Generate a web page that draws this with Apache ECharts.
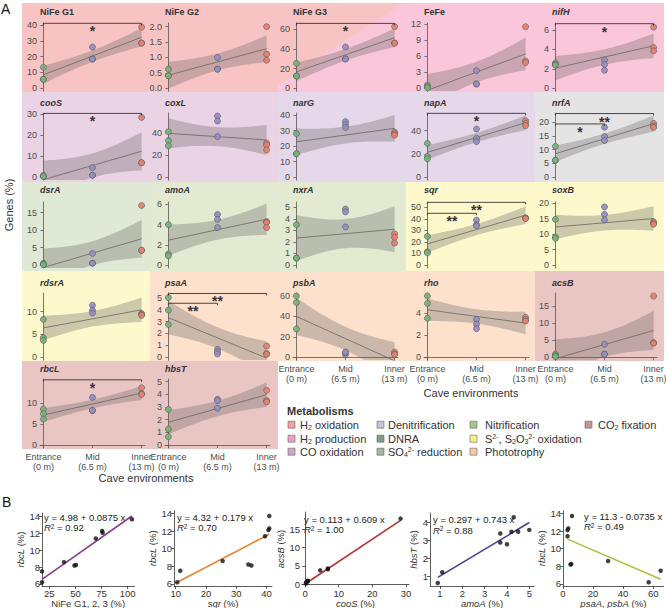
<!DOCTYPE html>
<html>
<head>
<meta charset="utf-8">
<script src="https://cdn.jsdelivr.net/npm/echarts@6/dist/echarts.min.js"></script>
<style>
  html, body { margin: 0; padding: 0; background: #fff; }
  #chart { width: 666px; height: 608px; }
</style>
</head>
<body>
<div id="chart"></div>
<script>
// ---------- data (A: genes % per site, 3 samples each: Entrance, Mid, Inner) ----------
const groupX = [0, 6.5, 13];
const groupNames = ['Entrance', 'Mid', 'Inner'];
const groupDepth = ['(0 m)', '(6.5 m)', '(13 m)'];

const niFeG1 = [[13.3, 5.7, 5.7], [26.1, 18.5, 18.5], [38.7, 28.6, 28.6]];
const niFeG2 = [[0.62, 0.41, 0.41], [1.0, 0.62, 0.62], [2.0, 1.11, 0.91]];
const niFeG3 = [[25.4, 12.5, 12.5], [42, 29.8, 29.8], [62.7, 46, 46]];
const feFe = [[0.6, 0.3, 0.1], [3.3, 0.8, 0.8], [11.5, 5.1, 4.8]];
const nifH = [[2.6, 2.45, 2.4], [2.9, 2.45, 1.85], [6.3, 4.2, 3.85]];
const cooS = [[0.8, 0.3, 0.3], [4.5, 0.8, 0.8], [28.4, 6.8, 6.8]];
const coxL = [[41.5, 33.3, 28.5], [55.8, 51.2, 37], [31, 29.4, 24.8]];
const narG = [[28, 15, 15], [35.7, 33.8, 32], [29, 28, 27]];
const napA = [[29, 17.7, 15.7], [41.4, 33.4, 30.6], [48.6, 46.3, 44.3]];
const nrfA = [[11.2, 6.1, 6.1], [18.2, 14.8, 13.3], [19.6, 18.7, 18.1]];
const dsrA = [[0.5, 0.2, 0.1], [3.3, 0.5, 0.5], [17, 4.2, 4.2]];
const amoA = [[4.0, 1.1, 0.9], [5.0, 4.5, 3.7], [4.3, 4.2, 3.7]];
const nxrA = [[3.5, 0.6, 0.6], [4.85, 4.6, 3.3], [2.7, 2.4, 1.9]];
const sqr = [[24.8, 11.5, 10.5], [38.9, 35, 34], [40.9, 40.5, 40.2]];
const soxB = [[14.8, 9.1, 8.6], [18.8, 16.4, 14.6], [14, 13.6, 13.2]];
const rdsrA = [[8.3, 4.3, 3.7], [11.4, 10.3, 9.7], [9.6, 9.4, 9.2]];
const psaA = [[5.0, 3.95, 2.75], [0.67, 0.47, 0.28], [0.94, 0.33, 0.25]];
const psbA = [[60, 53.5, 27.7], [2.5, 4.5, 5.2], [5.1, 3.2, 2.7]];
const rho = [[5.58, 4.9, 3.55], [3.45, 3.0, 2.6], [3.64, 3.45, 3.3]];
const acsB = [[0.9, 0.5, 0.2], [3.8, 0.9, 0.9], [17.9, 4.3, 4.1]];
const rbcL = [[8.6, 7.5, 6.2], [11.4, 8.2, 8.3], [13.7, 12.3, 12.1]];
const hbsT = [[2.8, 1.25, 0.65], [3.6, 3.5, 2.9], [4.3, 3.5, 3.4]];

// ---------- data (B: pairwise correlations) ----------
const b1x = [18, 18, 39, 49, 50.5, 69.5, 75.5, 76, 104];
const b1y = [7.5, 6.2, 8.6, 8.2, 8.25, 11.4, 12.3, 12.1, 13.7];
const b2x = [10.5, 11.5, 25.5, 34, 35, 39.5, 40.6, 40.9, 40.9];
const b2y = [6.2, 7.5, 8.6, 8.2, 8.1, 11.4, 12.1, 12.3, 13.7];
const b3x = [0.8, 0.3, 0.3, 4.5, 0.8, 0.8, 28.4, 6.8, 6.8];
const b3y = [0.9, 0.5, 0.2, 3.8, 0.9, 0.9, 17.9, 4.3, 4.1];
const b4x = [4.0, 1.1, 0.9, 5.0, 4.5, 3.7, 4.3, 4.2, 3.7];
const b4y = [2.8, 1.25, 0.65, 3.6, 3.5, 2.9, 4.3, 3.5, 3.4];
const b5x = [65, 57, 30, 3, 5, 5.5, 6, 3.5, 3];
const b5y = [7.5, 6.2, 8.6, 11.4, 8.2, 8.25, 13.7, 12.3, 12.1];
const bIntercept = [4.98, 4.32, 0.113, 0.297, 11.3];
const bSlope = [0.0875, 0.179, 0.609, 0.743, -0.0735];
const bR2 = ['0.92', '0.70', '1.00', '0.88', '0.49'];
const bXName = ['NiFe G1, 2, 3 (%)', '{i|sqr} (%)', '{i|cooS} (%)', '{i|amoA} (%)', '{i|psaA}, {i|psbA} (%)'];
const bYName = ['{i|rbcL} (%)', '{i|rbcL} (%)', '{i|acsB} (%)', '{i|hbsT} (%)', '{i|rbcL} (%)'];

// ---------- metabolisms ----------
const metKeys = ['h2ox', 'h2prod', 'coox', 'denit', 'dnra', 'so4', 'nitr', 'sox', 'photo', 'co2'];
const metLabels = ['H{sub|2} oxidation', 'H{sub|2} production', 'CO oxidation', 'Denitrification', 'DNRA',
  'SO{sub|4}{sup|2-} reduction', 'Nitrification', 'S{sup|2-}, S{sub|2}O{sub|3}{sup|2-} oxidation', 'Phototrophy', 'CO{sub|2} fixation'];
const metBg = {
  h2ox: '#f7c4c3', h2prod: '#f9c6da', coox: '#ead3e5', denit: '#e4d8ea', dnra: '#e4e4e4',
  so4: '#dfe9d6', nitr: '#e2ebd2', sox: '#fdf9cd', photo: '#fde1cd', co2: '#e9c5c4'
};
const metKey = {
  h2ox: '#f0a09f', h2prod: '#ef9fc6', coox: '#c8a7c7', denit: '#cbbfda', dnra: '#849c86',
  so4: '#a3b89f', nitr: '#a6c68f', sox: '#f3f18e', photo: '#f7c8a7', co2: '#c79494'
};

// ---------- panels ----------
const panels = [
  { name: 'NiFe G1', it: false, data: niFeG1, met: 'h2ox', ticks: [0, 10, 20, 30, 40], top: 41.3 },
  { name: 'NiFe G2', it: false, data: niFeG2, met: 'h2ox', ticks: [0, 0.5, 1, 1.5, 2], top: 2.12, dec: 1 },
  { name: 'NiFe G3', it: false, data: niFeG3, met: 'split', ticks: [0, 20, 40, 60], top: 66.4 },
  { name: 'FeFe', it: false, data: feFe, met: 'h2prod', ticks: [0, 3, 6, 9, 12], top: 12.2 },
  { name: 'nifH', it: true, data: nifH, met: 'h2prod', ticks: [0, 2, 4, 6], top: 6.72 },
  { name: 'cooS', it: true, data: cooS, met: 'coox', ticks: [0, 10, 20, 30], top: 30.5 },
  { name: 'coxL', it: true, data: coxL, met: 'coox', ticks: [0, 20, 40], top: 58.6 },
  { name: 'narG', it: true, data: narG, met: 'denit', ticks: [0, 10, 20, 30, 40], top: 41.3 },
  { name: 'napA', it: true, data: napA, met: 'denit', ticks: [0, 20, 40], top: 55.3 },
  { name: 'nrfA', it: true, data: nrfA, met: 'dnra', ticks: [0, 5, 10, 15, 20], top: 23.4 },
  { name: 'dsrA', it: true, data: dsrA, met: 'so4', ticks: [0, 5, 10, 15], top: 18 },
  { name: 'amoA', it: true, data: amoA, met: 'nitr', ticks: [0, 2, 4, 6], top: 6.23 },
  { name: 'nxrA', it: true, data: nxrA, met: 'nitr', ticks: [0, 1, 2, 3, 4, 5], top: 5.46 },
  { name: 'sqr', it: true, data: sqr, met: 'sox', ticks: [0, 10, 20, 30, 40, 50], top: 54.6 },
  { name: 'soxB', it: true, data: soxB, met: 'sox', ticks: [0, 5, 10, 15, 20], top: 20.4 },
  { name: 'rdsrA', it: true, data: rdsrA, met: 'sox', ticks: [0, 5, 10], top: 14.1 },
  { name: 'psaA', it: true, data: psaA, met: 'photo', ticks: [0, 1, 2, 3, 4, 5], top: 5.39 },
  { name: 'psbA', it: true, data: psbA, met: 'photo', ticks: [0, 20, 40, 60], top: 62.9 },
  { name: 'rho', it: true, data: rho, met: 'photo', ticks: [0, 2, 4], top: 5.85 },
  { name: 'acsB', it: true, data: acsB, met: 'co2', ticks: [0, 5, 10, 15], top: 18.8 },
  { name: 'rbcL', it: true, data: rbcL, met: 'co2', ticks: [0, 5, 10], top: 15.8 },
  { name: 'hbsT', it: true, data: hbsT, met: 'co2', ticks: [0, 1, 2, 3, 4, 5], top: 5.2 }
];

// significance brackets: panel, from group, to group, label, height (data units)
const signif = [
  [0, 0, 2, '*', 41.1], [2, 0, 2, '*', 66], [4, 0, 2, '*', 6.65], [5, 0, 2, '*', 30.3],
  [8, 0, 2, '*', 55], [9, 0, 2, '**', 23.2], [9, 0, 1, '*', 19.4], [13, 0, 2, '**', 54.3],
  [13, 0, 1, '**', 44.8], [16, 0, 2, '**', 5.35], [16, 0, 1, '**', 4.53], [20, 0, 2, '*', 15.6]
];

// ---------- layout ----------
const FONT = '"Liberation Sans", Arial, sans-serif';
const colX = [40, 165, 293, 424, 552];
const rowTop = [23, 113, 202, 293, 379];
const rowZero = [88.3, 177, 265, 357.3, 445];
const rowTitleY = [12, 103, 190, 283, 369];
const bgRows = [[3, 92], [92, 182], [182, 271], [271, 361], [361, 449]];
const bgCols = [22, 150, 278, 406, 535, 664];
const panelW = 105;
const xPad = 0.45;
const bottomPanels = [17, 18, 19, 20, 21];
const groupColors = ['#78b27a', '#958ec3', '#e8806d'];
const bandColor = 'rgba(105,100,100,0.33)';
const axisColor = '#5a5555';
const labelColor = '#4d4d4d';

const tTable = { 1: 12.706, 2: 4.303, 3: 3.182, 4: 2.776, 5: 2.571, 6: 2.447, 7: 2.365, 8: 2.306, 9: 2.262 };

function linFit(pts) {
  const n = pts.length;
  const xbar = pts.reduce((s, p) => s + p[0], 0) / n;
  const ybar = pts.reduce((s, p) => s + p[1], 0) / n;
  let sxx = 0, sxy = 0;
  pts.forEach(p => { sxx += (p[0] - xbar) ** 2; sxy += (p[0] - xbar) * (p[1] - ybar); });
  const b = sxy / sxx, a = ybar - b * xbar;
  let sse = 0;
  pts.forEach(p => { sse += (p[1] - a - b * p[0]) ** 2; });
  return { a, b, n, xbar, sxx, s: Math.sqrt(sse / (n - 2)) };
}

const grids = [], xAxes = [], yAxes = [], series = [], graphics = [];

// backgrounds
panels.forEach((p, i) => {
  const r = i < 20 ? Math.floor(i / 5) : 4;
  const c = i < 20 ? i % 5 : i - 20;
  const x0 = bgCols[c], x1 = bgCols[c + 1], y0 = bgRows[r][0], y1 = bgRows[r][1];
  if (p.met === 'split') {
    graphics.push({ type: 'rect', z: -10, shape: { x: x0, y: y0, width: x1 - x0, height: y1 - y0 }, style: { fill: metBg.h2prod } });
    graphics.push({ type: 'polygon', z: -9, shape: { points: [[x0, y0], [x1 - 3, y0], [x0, 85]] }, style: { fill: metBg.h2ox } });
  } else {
    graphics.push({ type: 'rect', z: -10, shape: { x: x0, y: y0, width: x1 - x0, height: y1 - y0 }, style: { fill: metBg[p.met] } });
  }
});

panels.forEach((p, i) => {
  const r = i < 20 ? Math.floor(i / 5) : 4;
  const c = i < 20 ? i % 5 : i - 20;
  const bottom = rowZero[r] + 3;
  const ppu = (rowZero[r] - rowTop[r]) / p.top;
  const yMin = -3 / ppu;
  const showX = bottomPanels.includes(i);

  grids.push({ left: colX[c], top: rowTop[r], width: panelW, height: bottom - rowTop[r], containLabel: false, outerBoundsMode: 'none' });
  xAxes.push({
    gridIndex: i, type: 'value', min: -xPad, max: 13 + xPad, show: showX,
    axisLine: { show: true, lineStyle: { color: axisColor, width: 0.8 } },
    axisTick: { show: true, customValues: groupX, length: 3, lineStyle: { color: axisColor, width: 0.8 } },
    axisLabel: { show: false },
    splitLine: { show: false }
  });
  yAxes.push({
    gridIndex: i, type: 'value', min: yMin, max: p.top,
    axisLine: { show: true, lineStyle: { color: axisColor, width: 0.8 } },
    axisTick: { show: true, customValues: p.ticks, length: 3, lineStyle: { color: axisColor, width: 0.8 } },
    axisLabel: {
      customValues: p.ticks, margin: 3, fontSize: 9, color: labelColor, fontFamily: FONT,
      formatter: v => p.dec ? v.toFixed(p.dec) : String(v)
    },
    splitLine: { show: false }
  });

  // title
  graphics.push({
    type: 'text', x: colX[c], y: rowTitleY[r],
    style: { text: p.name, font: (p.it ? 'italic ' : '') + 'bold 9px ' + FONT, fill: '#333', verticalAlign: 'middle' }
  });

  // x labels under the bottom panels, centred on each site
  if (showX) {
    series.push({
      type: 'custom', xAxisIndex: i, yAxisIndex: i, silent: true, clip: false, z: 5,
      data: groupX.map(x => [x, yMin]),
      renderItem: (params, api) => {
        const g = params.dataIndex;
        const pt = api.coord([groupX[g], yMin]);
        return {
          type: 'text', x: pt[0], y: pt[1] + 4,
          style: { text: groupNames[g] + '\n' + groupDepth[g], align: 'center', verticalAlign: 'top', font: '9px ' + FONT, lineHeight: 10, fill: labelColor }
        };
      }
    });
  }

  const pts = [];
  p.data.forEach((vals, g) => vals.forEach(v => pts.push([groupX[g], v])));
  const f = linFit(pts);
  const t = tTable[f.n - 2];
  const upper = [], lower = [];
  for (let k = 0; k <= 40; k++) {
    const x = 13 * k / 40;
    const fit = f.a + f.b * x;
    const se = f.s * Math.sqrt(1 / f.n + (x - f.xbar) ** 2 / f.sxx);
    upper.push([x, fit + t * se]);
    lower.push([x, fit - t * se]);
  }
  series.push({
    type: 'custom', xAxisIndex: i, yAxisIndex: i, silent: true, clip: true, z: 1,
    data: [[0, 0]],
    renderItem: (params, api) => {
      const poly = upper.map(q => api.coord(q)).concat(lower.slice().reverse().map(q => api.coord(q)));
      return { type: 'polygon', shape: { points: echarts.graphic.clipPointsByRect(poly, params.coordSys) }, style: { fill: bandColor } };
    }
  });
  series.push({
    type: 'line', xAxisIndex: i, yAxisIndex: i, silent: true, symbol: 'none', z: 2, clip: true,
    data: [[0, f.a], [13, f.a + 13 * f.b]],
    lineStyle: { color: '#6b6666', width: 0.8 }
  });
  series.push({
    type: 'scatter', xAxisIndex: i, yAxisIndex: i, silent: true, z: 3, symbolSize: 6,
    data: pts.map((q, k) => ({ value: q, itemStyle: { color: groupColors[Math.floor(k / 3)] } })),
    itemStyle: { borderColor: '#555', borderWidth: 0.6, opacity: 0.95 }
  });

  const br = signif.filter(s => s[0] === i);
  if (br.length) {
    series.push({
      type: 'custom', xAxisIndex: i, yAxisIndex: i, silent: true, z: 4,
      data: br.map(s => [groupX[s[1]], s[4]]),
      renderItem: (params, api) => {
        const s = br[params.dataIndex];
        const p1 = api.coord([groupX[s[1]], s[4]]);
        const p2 = api.coord([groupX[s[2]], s[4]]);
        return {
          type: 'group', children: [
            { type: 'polyline', shape: { points: [[p1[0], p1[1] + 2], p1, p2, [p2[0], p2[1] + 2]] }, style: { stroke: '#3a3333', lineWidth: 0.9, fill: null } },
            { type: 'text', x: (p1[0] + p2[0]) / 2, y: p1[1] + 8, style: { text: s[3], align: 'center', verticalAlign: 'middle', font: 'bold 14px ' + FONT, fill: '#3a3333' } }
          ]
        };
      }
    });
  }
});

// ---------- panel B ----------
const bLayout = [
  { left: 42, top: 513, width: 92.5, xMin: 18, xMax: 106.5, yMin: 5.76, yMax: 14.44, xt: [25, 50, 75, 100], yt: [6, 8, 10, 12, 14], color: '#8b3d8c', eqX: 44, eqY: 517, nameGap: 9 },
  { left: 174, top: 510.7, width: 98, xMin: 9.44, xMax: 41.8, yMin: 5.77, yMax: 14.3, xt: [10, 20, 30, 40], yt: [6, 8, 10, 12, 14], color: '#e8842c', eqX: 177, eqY: 517, nameGap: 7 },
  { left: 302, top: 512, width: 107, xMin: -0.9, xMax: 30.9, yMin: -0.46, yMax: 19.7, xt: [0, 10, 20, 30], yt: [0, 5, 10, 15], color: '#b5302e', eqX: 304, eqY: 519, nameGap: 8 },
  { left: 430, top: 513, width: 104, xMin: 0.552, xMax: 5.21, yMin: 0.483, yMax: 4.54, xt: [1, 2, 3, 4, 5], yt: [1, 2, 3, 4], color: '#4a3f98', eqX: 433, eqY: 519.5, nameGap: 5 },
  { left: 563, top: 510.7, width: 100.7, xMin: 0, xMax: 67, yMin: 5.77, yMax: 14.3, xt: [0, 20, 40, 60], yt: [6, 8, 10, 12, 14], color: '#a8c33e', eqX: 584, eqY: 516, nameGap: 9 }
];
const bX = [b1x, b2x, b3x, b4x, b5x];
const bY = [b1y, b2y, b3y, b4y, b5y];

bLayout.forEach((L, j) => {
  const gi = panels.length + j;
  grids.push({ left: L.left, top: L.top, width: L.width, height: 586 - L.top, containLabel: false, outerBoundsMode: 'none' });
  const common = {
    axisLine: { show: true, lineStyle: { color: '#333', width: 0.8 } },
    splitLine: { show: false }
  };
  const nameStyle = {
    fontSize: 9.5, color: '#333', fontFamily: FONT,
    rich: { i: { fontSize: 9.5, fontStyle: 'italic', color: '#333', fontFamily: FONT } }
  };
  xAxes.push(Object.assign({
    gridIndex: gi, type: 'value', min: L.xMin, max: L.xMax,
    axisTick: { show: true, customValues: L.xt, length: 3, lineStyle: { color: '#333', width: 0.8 } },
    axisLabel: { customValues: L.xt, margin: 2, fontSize: 9.5, color: '#333', fontFamily: FONT },
    name: bXName[j], nameLocation: 'middle', nameGap: 11, nameTextStyle: nameStyle
  }, common));
  yAxes.push(Object.assign({
    gridIndex: gi, type: 'value', min: L.yMin, max: L.yMax,
    axisTick: { show: true, customValues: L.yt, length: 3, lineStyle: { color: '#333', width: 0.8 } },
    axisLabel: { customValues: L.yt, margin: 2, fontSize: 9.5, color: '#333', fontFamily: FONT },
    name: bYName[j], nameLocation: 'middle', nameGap: L.nameGap, nameTextStyle: nameStyle
  }, common));

  const xs = bX[j], ys = bY[j];
  const x0 = Math.min(...xs), x1 = Math.max(...xs);
  series.push({
    type: 'line', xAxisIndex: gi, yAxisIndex: gi, silent: true, symbol: 'none', z: 2,
    data: [[x0, bIntercept[j] + bSlope[j] * x0], [x1, bIntercept[j] + bSlope[j] * x1]],
    lineStyle: { color: L.color, width: 1.6 }
  });
  series.push({
    type: 'scatter', xAxisIndex: gi, yAxisIndex: gi, silent: true, z: 3, symbolSize: 4.5,
    data: xs.map((x, k) => [x, ys[k]]),
    itemStyle: { color: '#111' }
  });

  const b = bSlope[j];
  const eq = 'y = ' + bIntercept[j] + (b < 0 ? ' - ' : ' + ') + Math.abs(b) + ' x';
  graphics.push({ type: 'text', x: L.eqX, y: L.eqY, style: { text: eq, font: '9.5px ' + FONT, fill: '#222', verticalAlign: 'middle' } });
  graphics.push({
    type: 'text', x: L.eqX, y: L.eqY + 10.5,
    style: {
      text: '{i|R}{s|2} = ' + bR2[j], font: '9.5px ' + FONT, fill: '#222', verticalAlign: 'middle',
      rich: { i: { fontStyle: 'italic', fontSize: 9.5, fontFamily: FONT, fill: '#222' }, s: { fontSize: 6.5, verticalAlign: 'top', fontFamily: FONT, fill: '#222' } }
    }
  });
});

// ---------- labels, legend ----------
graphics.push({ type: 'text', x: 1, y: 9, style: { text: 'A', font: '14px ' + FONT, fill: '#111', verticalAlign: 'middle' } });
graphics.push({ type: 'text', x: 2, y: 502, style: { text: 'B', font: '14px ' + FONT, fill: '#111', verticalAlign: 'middle' } });
graphics.push({ type: 'text', x: 9, y: 205, rotation: Math.PI / 2, style: { text: 'Genes (%)', font: '11px ' + FONT, fill: '#333', align: 'center', verticalAlign: 'middle' } });
graphics.push({ type: 'text', x: 146, y: 478, style: { text: 'Cave environments', font: '11px ' + FONT, fill: '#333', align: 'center', verticalAlign: 'middle' } });
graphics.push({ type: 'text', x: 471, y: 393, style: { text: 'Cave environments', font: '11px ' + FONT, fill: '#333', align: 'center', verticalAlign: 'middle' } });
graphics.push({ type: 'text', x: 287, y: 411, style: { text: 'Metabolisms', font: 'bold 11px ' + FONT, fill: '#333', verticalAlign: 'middle' } });

const legBoxX = [288, 377, 470, 585];
const legTextX = [300, 388, 485, 598];
const legRowY = [424.7, 438.7, 451.7];
metKeys.forEach((k, m) => {
  const col = Math.floor(m / 3), row = m % 3;
  const y = legRowY[row];
  graphics.push({ type: 'rect', shape: { x: legBoxX[col], y: y - 3.5, width: 7, height: 7 }, style: { fill: metKey[k], stroke: '#666', lineWidth: 0.6 } });
  graphics.push({
    type: 'text', x: legTextX[col], y: y,
    style: {
      text: metLabels[m], font: '11px ' + FONT, fill: '#333', verticalAlign: 'middle',
      rich: {
        sub: { fontSize: 7, verticalAlign: 'bottom', lineHeight: 12, fontFamily: FONT, fill: '#333' },
        sup: { fontSize: 7, verticalAlign: 'top', lineHeight: 12, fontFamily: FONT, fill: '#333' }
      }
    }
  });
});

const chart = echarts.init(document.getElementById('chart'), null, { renderer: 'svg' });
chart.setOption({
  animation: false,
  backgroundColor: '#fff',
  textStyle: { fontFamily: FONT },
  grid: grids,
  xAxis: xAxes,
  yAxis: yAxes,
  series: series,
  graphic: { elements: graphics }
});
</script>
</body>
</html>
